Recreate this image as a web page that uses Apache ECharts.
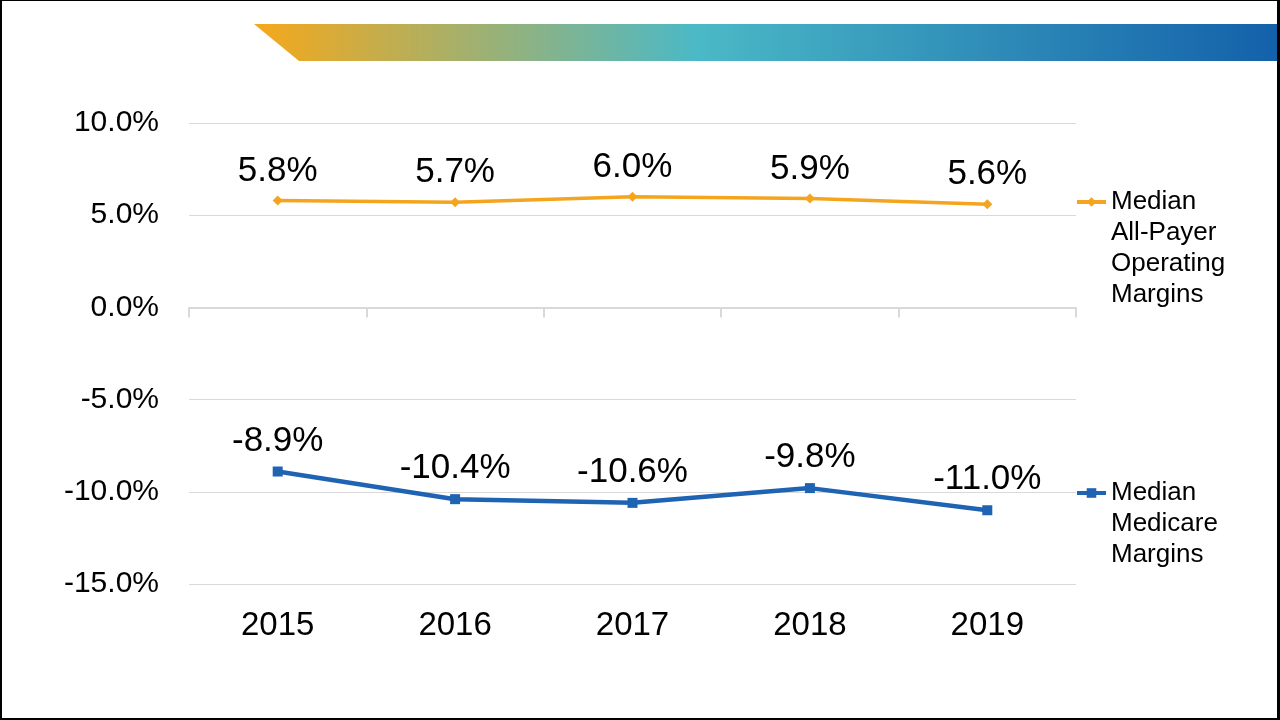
<!DOCTYPE html>
<html><head><meta charset="utf-8">
<script src="https://cdn.jsdelivr.net/npm/echarts@6/dist/echarts.min.js"></script>
<style>html,body{margin:0;padding:0;background:#fff}#c{width:1280px;height:720px;box-sizing:border-box;border:2px solid #000;border-top-width:1px;border-right-width:3px}</style>
</head><body><div id="c"></div>
<script>
const years = ['2015','2016','2017','2018','2019'];
const allPayer = [5.8, 5.7, 6.0, 5.9, 5.6];
const medicare = [-8.9, -10.4, -10.6, -9.8, -11.0];
const yTicks = {min: -15, max: 10, interval: 5};
const nameAll = 'Median All-Payer Operating Margins';
const nameMed = 'Median Medicare Margins';
const FONT = 'Liberation Sans';
const ORANGE = '#F5A51D';
const BLUE = '#1F63B3';
const chart = echarts.init(document.getElementById('c'));
const LH = 31;
chart.setOption({
  animation: false,
  textStyle: {fontFamily: FONT},
  graphic: [{
    type: 'polygon',
    shape: {points: [[252,23],[1280,23],[1280,60],[297,60]]},
    style: {fill: new echarts.graphic.LinearGradient(0,0,1,0,[
      {offset:0,color:'#F6A81A'},
      {offset:0.43,color:'#4BB9C6'},
      {offset:1,color:'#1360AA'}])}
  }],
  grid: {left: 187, right: 201, top: 122, bottom: 134},
  legend: [{
    data: [nameAll], orient: 'vertical', left: 1073, top: 201 - 3.5*LH, padding: 0,
    itemWidth: 29, itemHeight: 12, itemGap: 0,
    lineStyle: {width: 4},
    formatter: () => '\n\n\nMedian\nAll-Payer\nOperating\nMargins',
    textStyle: {fontSize: 26, color: '#000', lineHeight: LH}
  },{
    data: [nameMed], orient: 'vertical', left: 1073, top: 492 - 2.5*LH, padding: 0,
    itemWidth: 29, itemHeight: 12, itemGap: 0,
    lineStyle: {width: 4},
    formatter: () => '\n\nMedian\nMedicare\nMargins',
    textStyle: {fontSize: 26, color: '#000', lineHeight: LH}
  }],
  xAxis: [{
    type: 'category', data: years, position: 'bottom',
    axisLine: {show: false, onZero: false}, axisTick: {show: false},
    axisLabel: {fontSize: 33, color: '#000', margin: 25}
  },{
    type: 'category', data: years, position: 'bottom',
    axisLine: {show: true, onZero: true, lineStyle: {color: '#D9D9D9', width: 2}},
    axisTick: {show: true, length: 10, lineStyle: {color: '#D9D9D9', width: 2}},
    axisLabel: {show: false}
  }],
  yAxis: {
    type: 'value', min: yTicks.min, max: yTicks.max, interval: yTicks.interval,
    axisLine: {show: false}, axisTick: {show: false},
    splitLine: {lineStyle: {color: '#D9D9D9', width: 1}},
    axisLabel: {fontSize: 30, color: '#000', margin: 30, formatter: v => v.toFixed(1) + '%'}
  },
  series: [{
    name: nameAll, type: 'line', data: allPayer, xAxisIndex: 0,
    symbol: 'diamond', symbolSize: 10,
    lineStyle: {color: ORANGE, width: 3.5}, itemStyle: {color: ORANGE},
    label: {show: true, position: 'top', distance: 7, fontSize: 35, color: '#000', formatter: p => p.value.toFixed(1) + '%'}
  },{
    name: nameMed, type: 'line', data: medicare, xAxisIndex: 0,
    symbol: 'rect', symbolSize: 10,
    lineStyle: {color: BLUE, width: 4.5}, itemStyle: {color: BLUE},
    label: {show: true, position: 'top', distance: 8, fontSize: 35, color: '#000', formatter: p => p.value.toFixed(1) + '%'}
  }]
});
</script></body></html>
